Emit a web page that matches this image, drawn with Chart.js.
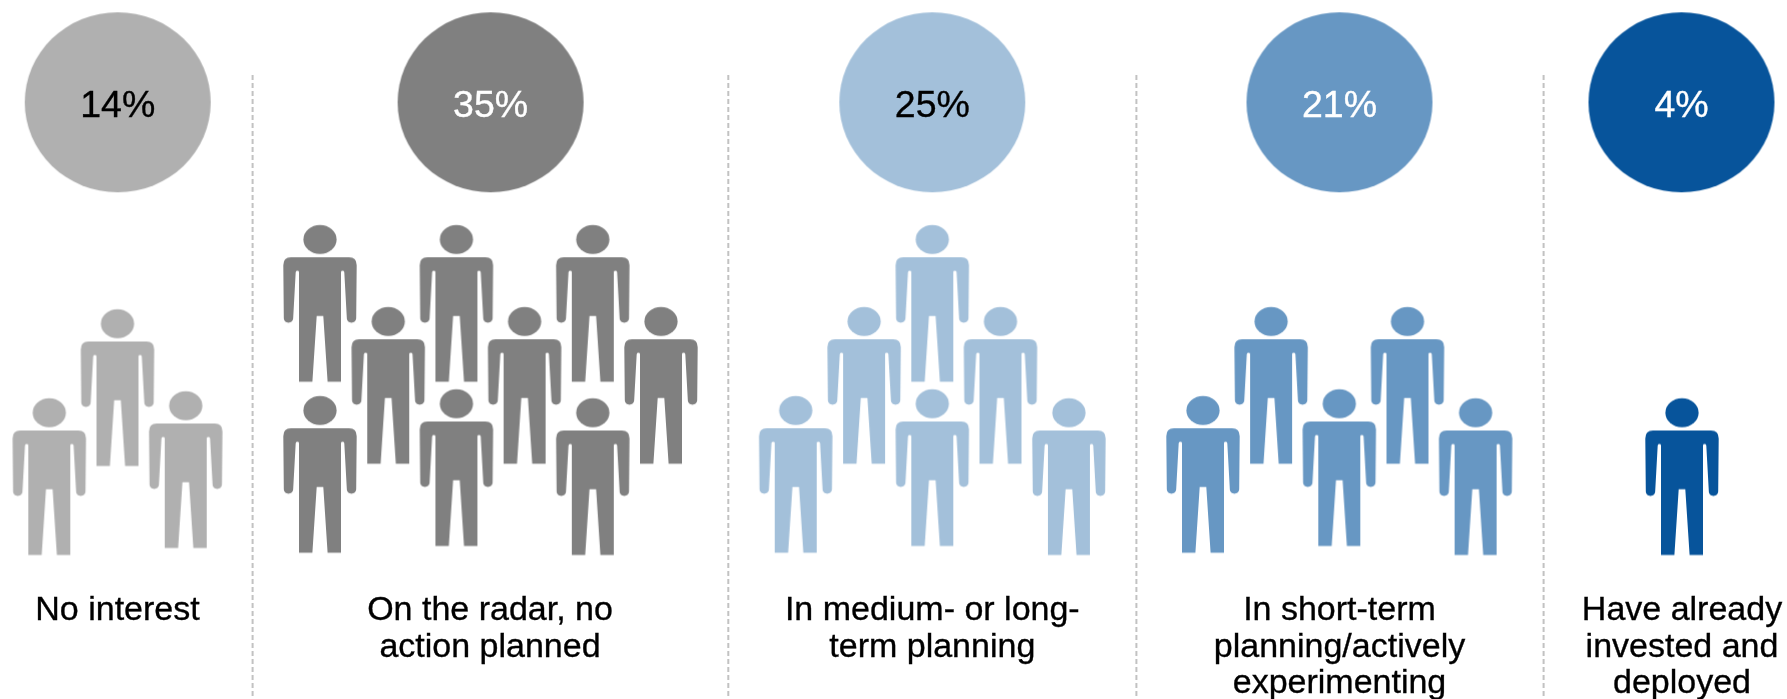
<!DOCTYPE html>
<html>
<head>
<meta charset="utf-8">
<style>
html,body{margin:0;padding:0;background:#fff;overflow:hidden}
canvas{display:block;filter:blur(.5px)}
</style>
<script src="https://cdn.jsdelivr.net/npm/chart.js@4"></script>
</head>
<body>
<canvas id="c" width="1787" height="699"></canvas>
<script>
// ---- data ----
const categories = ["No interest", "On the radar, no action planned", "In medium- or long-term planning", "In short-term planning/actively experimenting", "Have already invested and deployed"];
const categoryLines = [
  ["No interest"],
  ["On the radar, no", "action planned"],
  ["In medium- or long-", "term planning"],
  ["In short-term", "planning/actively", "experimenting"],
  ["Have already", "invested and", "deployed"]
];
const percents = [14, 35, 25, 21, 4];
const peopleCounts = [3, 9, 6, 5, 1];

// ---- layout (axis units) ----
const W = 1787, H = 699;
const circleX = [117.7, 490.6, 932.3, 1339.5, 1681.5];
const circleY = 102.3;
const peopleX = [117.5, 490.5, 932.3, 1339.3, 1682];
const labelX = [117.5, 490, 932.3, 1339.5, 1682];
const dividerX = [252.6, 728.3, 1136.4, 1543.6];
const dividerTop = 75, dividerBottom = 699;
const slots = [
  [[-68.2,555],[0,466],[68.2,548]],
  [[-170.5,381.7],[-34.1,381.7],[102.3,381.7],[-102.3,463.7],[34.1,463.7],[170.5,463.7],[-170.5,552.7],[-34.1,546],[102.3,555]],
  [[0,381.7],[-68.2,463.7],[68.2,463.7],[-136.6,552.7],[0,546],[136.6,555]],
  [[-68.2,463.7],[68.2,463.7],[-136.3,552.7],[0,546],[136.3,555]],
  [[0,555]]
];
const footOffset = 78.5;

// ---- styles ----
const fills = ["#b0b0b0", "#808080", "#a3c0da", "#6797c3", "#07549b"];
const percentInk = ["#000000", "#ffffff", "#000000", "#ffffff", "#ffffff"];
const textFont = '"Liberation Sans", Arial, sans-serif';

function personIcon(color){
  const cv = document.createElement('canvas');
  cv.width = 76; cv.height = 160;
  const g = cv.getContext('2d');
  g.translate(38, 80);
  g.fillStyle = color;
  g.beginPath();
  g.ellipse(0, -63.7, 16.6, 14.5, 0, 0, Math.PI*2);
  g.fill();
  g.beginPath();
  g.moveTo(-29, -45.9);
  g.lineTo(29, -45.9);
  g.quadraticCurveTo(36.7, -45.9, 36.7, -38);
  g.lineTo(36.2, 14.5);
  g.bezierCurveTo(36.2, 21, 26.8, 21, 26.8, 14.5);
  g.lineTo(24.3, -31);
  g.quadraticCurveTo(24, -32.4, 22.6, -32.4);
  g.quadraticCurveTo(21, -32.4, 21, -31);
  g.lineTo(21, 78.5);
  g.lineTo(7.6, 78.5);
  g.lineTo(3.3, 12.8);
  g.lineTo(-3.3, 12.8);
  g.lineTo(-7.6, 78.5);
  g.lineTo(-21, 78.5);
  g.lineTo(-21, -31);
  g.quadraticCurveTo(-21, -32.4, -22.6, -32.4);
  g.quadraticCurveTo(-24, -32.4, -24.3, -31);
  g.lineTo(-26.8, 14.5);
  g.bezierCurveTo(-26.8, 21, -36.2, 21, -36.2, 14.5);
  g.lineTo(-36.7, -38);
  g.quadraticCurveTo(-36.7, -45.9, -29, -45.9);
  g.closePath();
  g.fill();
  return cv;
}
function discIcon(color){
  const cv = document.createElement('canvas');
  cv.width = 190; cv.height = 184;
  const g = cv.getContext('2d');
  g.fillStyle = color;
  g.beginPath();
  g.ellipse(95, 92, 93, 90, 0, 0, Math.PI*2);
  g.fill();
  return cv;
}

const datasets = [];
categories.forEach((name, i) => {
  datasets.push({
    label: name,
    data: slots[i].slice(0, peopleCounts[i]).map(s => ({x: peopleX[i] + s[0], y: s[1] - footOffset})),
    pointStyle: personIcon(fills[i]),
    pointRadius: 5,
    showLine: false
  });
});
datasets.push({
  label: 'Share of respondents',
  data: percents.map((p, i) => ({x: circleX[i], y: circleY, percent: p})),
  pointStyle: fills.map(discIcon),
  pointRadius: 5,
  showLine: false
});
dividerX.forEach((x, i) => {
  datasets.push({
    label: 'divider ' + (i + 1),
    data: [{x, y: dividerTop}, {x, y: dividerBottom}],
    showLine: true,
    pointRadius: 0,
    borderColor: '#c2c2c2',
    borderWidth: 2,
    borderDash: [5, 3]
  });
});

const textPlugin = {
  id: 'textPlugin',
  afterDatasetsDraw(chart){
    const {ctx, scales: {x, y}} = chart;
    ctx.save();
    ctx.textAlign = 'center';
    ctx.textBaseline = 'alphabetic';
    ctx.lineWidth = 0.35;
    const put = (s, px, py) => {
      ctx.fillText(s, px, py);
      ctx.strokeText(s, px, py);
    };
    percents.forEach((p, i) => {
      ctx.font = '37.5px ' + textFont;
      ctx.fillStyle = percentInk[i];
      ctx.strokeStyle = percentInk[i];
      put(p + '%', x.getPixelForValue(circleX[i]), y.getPixelForValue(116.5));
    });
    ctx.font = '34px ' + textFont;
    ctx.fillStyle = '#000';
    ctx.strokeStyle = '#000';
    categoryLines.forEach((lines, i) => {
      lines.forEach((line, k) => {
        put(line, x.getPixelForValue(labelX[i]), y.getPixelForValue(620 + 36.6 * k));
      });
    });
    ctx.restore();
  }
};

Chart.defaults.font.family = textFont;
new Chart(document.getElementById('c'), {
  type: 'scatter',
  data: {datasets},
  plugins: [textPlugin],
  options: {
    responsive: false,
    animation: false,
    layout: {padding: 0, autoPadding: false},
    clip: false,
    plugins: {legend: {display: false}, tooltip: {enabled: false}, title: {display: false}},
    scales: {
      x: {type: 'linear', min: 0, max: W, display: false},
      y: {type: 'linear', min: 0, max: H, reverse: true, display: false}
    }
  }
});
</script>
</body>
</html>
